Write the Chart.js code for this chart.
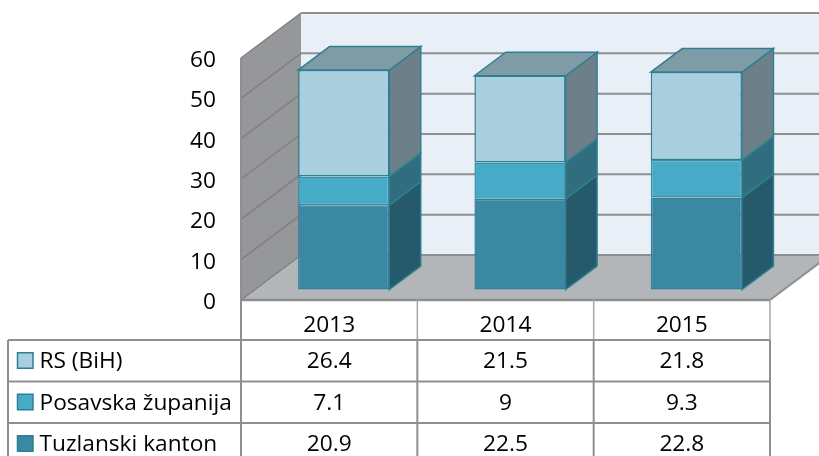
<!DOCTYPE html>
<html>
<head>
<meta charset="utf-8">
<title>Chart</title>
<style>
    html, body { margin: 0; padding: 0; background: #ffffff; overflow: hidden; }
    canvas { display: block; }
</style>
<script src="https://cdn.jsdelivr.net/npm/chart.js@4"></script>
</head>
<body>
<canvas id="barChart" width="819" height="456"></canvas>
<script>
/* ==========================================
        DATA
========================================== */

const years = ["2013", "2014", "2015"];

const tuzlanskiKanton = [20.9, 22.5, 22.8];
const posavskaZupanija = [7.1, 9, 9.3];
const rsBih = [26.4, 21.5, 21.8];

const yMax = 60;
const yStep = 10;

/* ==========================================
        STYLE
========================================== */

const FONT = "'Open Sans', sans-serif";
const FONT_SIZE = 22.7;
const TEXT = "#000000";

const WALL_BACK = "#e8eff6";
const WALL_SIDE = "#95979a";
const FLOOR = "#b2b6b9";
const LINE = "#8f8f8f";
const SIDE_LINE = "#808080";
const EDGE = "#2f7f93";

// wall depth and bar depth, px
const WALL_DX = 60;
const WALL_DY = -45;
const BAR_DX = 31.5;
const BAR_DY = -23.5;
const BAR_SHIFT_X = 14.5;
const BAR_SHIFT_Y = -10.5;

const TABLE_LEFT = 8;
const TABLE_ROW = 41.5;
const TABLE_TEXT_DY = 1;

// table rows go top to bottom, stack goes bottom to top
const rows = [
    { name: "RS (BiH)", values: rsBih, front: "#a9cedd" },
    { name: "Posavska županija", values: posavskaZupanija, front: "#47abc8" },
    { name: "Tuzlanski kanton", values: tuzlanskiKanton, front: "#3b88a3" }
];

const sideColors = ["#245a69", "#306d7f", "#6d808a"];
const TOP_COLOR = "#7f9ca6";

/* ==========================================
        HELPERS
========================================== */

function fillPoly(ctx, points, fill, stroke, width) {

    ctx.beginPath();
    points.forEach((p, i) => {
        if (i === 0) {
            ctx.moveTo(p[0], p[1]);
        } else {
            ctx.lineTo(p[0], p[1]);
        }
    });
    ctx.closePath();

    ctx.fillStyle = fill;
    ctx.fill();

    if (stroke) {
        ctx.strokeStyle = stroke;
        ctx.lineWidth = width;
        ctx.stroke();
    }

}

function drawLine(ctx, x1, y1, x2, y2, color, width) {

    ctx.beginPath();
    ctx.moveTo(x1, y1);
    ctx.lineTo(x2, y2);
    ctx.strokeStyle = color;
    ctx.lineWidth = width;
    ctx.stroke();

}

/* ==========================================
        WALLS AND FLOOR
========================================== */

function drawRoom(chart) {

    const ctx = chart.ctx;
    const area = chart.chartArea;
    const yScale = chart.scales.y;

    const l = area.left;
    const r = area.right;
    const t = area.top;
    const b = area.bottom;

    fillPoly(ctx, [
        [l + WALL_DX, t + WALL_DY],
        [r + WALL_DX, t + WALL_DY],
        [r + WALL_DX, b + WALL_DY],
        [l + WALL_DX, b + WALL_DY]
    ], WALL_BACK);

    fillPoly(ctx, [
        [l, t],
        [l + WALL_DX, t + WALL_DY],
        [l + WALL_DX, b + WALL_DY],
        [l, b]
    ], WALL_SIDE);

    fillPoly(ctx, [
        [l, b],
        [l + WALL_DX, b + WALL_DY],
        [r + WALL_DX, b + WALL_DY],
        [r, b]
    ], FLOOR);

    for (let v = 0; v <= yMax; v += yStep) {

        const y = yScale.getPixelForValue(v);

        drawLine(ctx, l, y, l + WALL_DX, y + WALL_DY, SIDE_LINE, 1.5);
        drawLine(ctx, l + WALL_DX, y + WALL_DY, r + WALL_DX, y + WALL_DY, LINE, 2);

    }

    drawLine(ctx, l, t, l, b, LINE, 2);
    drawLine(ctx, r, b, r + WALL_DX, b + WALL_DY, LINE, 2);

}

/* ==========================================
        BAR SIDES
========================================== */

function drawBarSides(chart) {

    const ctx = chart.ctx;

    chart.data.datasets.forEach((dataset, d) => {

        const bars = chart.getDatasetMeta(d).data;

        bars.forEach(bar => {

            const left = bar.x - bar.width / 2 + BAR_SHIFT_X;
            const right = bar.x + bar.width / 2 + BAR_SHIFT_X;
            const top = bar.y + BAR_SHIFT_Y;
            const bottom = bar.base + BAR_SHIFT_Y;

            fillPoly(ctx, [
                [right, top],
                [right + BAR_DX, top + BAR_DY],
                [right + BAR_DX, bottom + BAR_DY],
                [right, bottom]
            ], sideColors[d], EDGE, 1.5);

            if (d === chart.data.datasets.length - 1) {

                fillPoly(ctx, [
                    [left, top],
                    [left + BAR_DX, top + BAR_DY],
                    [right + BAR_DX, top + BAR_DY],
                    [right, top]
                ], TOP_COLOR, EDGE, 1.5);

            }

        });

    });

}

/* ==========================================
        DATA TABLE
========================================== */

function drawTable(chart) {

    const ctx = chart.ctx;
    const area = chart.chartArea;
    const xScale = chart.scales.x;

    const b = area.bottom;
    const colWidth = (area.right - area.left) / years.length;
    const rowTop = i => b + 40 + i * TABLE_ROW;

    // floor edge and the light year row
    drawLine(ctx, area.left, b, area.right, b, LINE, 2.5);
    years.forEach((year, c) => {
        const x = area.left + (c + 1) * colWidth;
        drawLine(ctx, x, b, x, rowTop(0), "#a6a6a6", 1.5);
    });
    drawLine(ctx, area.left, b, area.left, rowTop(0), LINE, 2);

    // row lines
    rows.forEach((row, i) => {
        drawLine(ctx, TABLE_LEFT, rowTop(i), area.right, rowTop(i), LINE, 2);
    });

    // column lines
    drawLine(ctx, TABLE_LEFT, rowTop(0), TABLE_LEFT, 456, LINE, 2);
    for (let c = 0; c <= years.length; c++) {
        const x = area.left + c * colWidth;
        drawLine(ctx, x, rowTop(0), x, 456, LINE, 2);
    }

    ctx.font = FONT_SIZE + "px " + FONT;
    ctx.textBaseline = "middle";
    ctx.fillStyle = TEXT;

    rows.forEach((row, i) => {

        const mid = rowTop(i) + TABLE_ROW / 2;

        fillPoly(ctx, [
            [17.5, mid - 8],
            [33, mid - 8],
            [33, mid + 7.5],
            [17.5, mid + 7.5]
        ], row.front, EDGE, 1.5);

        ctx.fillStyle = TEXT;
        ctx.textAlign = "left";
        ctx.fillText(row.name, 39.5, mid + TABLE_TEXT_DY);

        ctx.textAlign = "center";
        row.values.forEach((value, c) => {
            ctx.fillText(String(value), xScale.getPixelForValue(c), mid + TABLE_TEXT_DY);
        });

    });

}

/* ==========================================
        3D PLUGIN
========================================== */

const box3d = {

    id: "box3d",

    beforeDatasetsDraw(chart) {
        drawRoom(chart);
        drawBarSides(chart);
    },

    beforeDatasetDraw(chart) {
        chart.ctx.save();
        chart.ctx.translate(BAR_SHIFT_X, BAR_SHIFT_Y);
    },

    afterDatasetDraw(chart) {
        chart.ctx.restore();
    },

    afterDraw(chart) {
        drawTable(chart);
    }

};

/* ==========================================
        CREATE CHART
========================================== */

function makeDataset(label, data, color, border) {

    return {
        label,
        data,
        backgroundColor: color,
        borderColor: border,
        borderWidth: 1.5,
        borderSkipped: false,
        clip: false,
        categoryPercentage: 1,
        barPercentage: 0.517
    };

}

new Chart(document.getElementById("barChart").getContext("2d"), {

    type: "bar",

    data: {
        labels: years,
        datasets: [
            makeDataset("Tuzlanski kanton", tuzlanskiKanton, rows[2].front, "#347f98"),
            makeDataset("Posavska županija", posavskaZupanija, rows[1].front, "#3a8ea6"),
            makeDataset("RS (BiH)", rsBih, rows[0].front, EDGE)
        ]
    },

    options: {

        responsive: false,
        animation: false,
        devicePixelRatio: 1,

        layout: {
            padding: { top: 58, right: 49, bottom: 0, left: 0 }
        },

        plugins: {
            legend: { display: false },
            tooltip: { enabled: false }
        },

        scales: {

            x: {
                stacked: true,
                grid: { display: false, drawTicks: false },
                border: { display: false },
                ticks: {
                    color: TEXT,
                    padding: 12,
                    font: { family: FONT, size: FONT_SIZE }
                },
                afterFit(scale) {
                    scale.height = 156;
                }
            },

            y: {
                stacked: true,
                min: 0,
                max: yMax,
                grid: { display: false, drawTicks: false },
                border: { display: false },
                ticks: {
                    stepSize: yStep,
                    color: TEXT,
                    padding: 25,
                    labelOffset: 2.5,
                    font: { family: FONT, size: FONT_SIZE }
                },
                afterFit(scale) {
                    scale.width = 241;
                }
            }

        }

    },

    plugins: [box3d]

});
</script>
</body>
</html>
